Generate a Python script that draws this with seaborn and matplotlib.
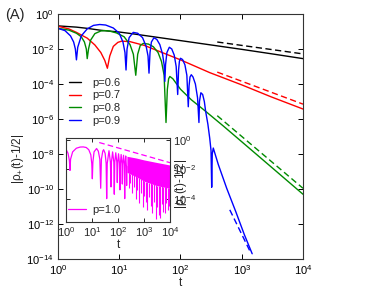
import numpy as np
import pandas as pd
import matplotlib
matplotlib.use("Agg")
import matplotlib.pyplot as plt
import seaborn as sns

# ---------------- data (t values and log10 of |rho+(t)-1/2|) ----------------
t_p06 = [1, 2, 3, 5, 10, 15, 30, 100, 251, 1000, 3000, 10000]
e_p06 = [-0.68, -0.75, -0.82, -0.93, -1.03, -1.11, -1.26, -1.52, -1.72, -2.02, -2.27, -2.55]

t_p07 = [1, 1.5, 2, 3, 4, 5, 5.8, 6.4, 7.0, 8, 9.5, 11, 15, 26, 50, 100, 300, 1000, 3000, 10000]
e_p07 = [-0.70, -0.85, -1.05, -1.38, -1.77, -2.2, -2.65, -3.1, -2.4, -1.85, -1.62, -1.55,
         -1.58, -1.8, -2.2, -2.62, -3.35, -4.05, -4.73, -5.43]

t_p08 = [1, 1.5, 2, 2.4, 2.7, 2.9, 3.0, 3.15, 3.4, 4, 5, 5.85, 7, 9, 12, 15, 17, 18.6, 20, 22,
         24.7, 30, 36, 43, 49, 54, 58, 61, 64, 67, 75, 100, 150, 251, 500, 1000, 3000, 10000]
e_p08 = [-0.82, -0.92, -1.1, -1.3, -1.6, -2.0, -2.55, -2.0, -1.5, -1.12, -0.97, -0.95, -0.98,
         -1.08, -1.3, -1.75, -2.3, -3.5, -2.3, -1.8, -1.68, -1.72, -1.87, -2.2, -2.72, -3.5,
         -6.2, -4.3, -3.7, -3.57, -3.7, -4.3, -4.9, -5.53, -6.4, -7.3, -8.73, -10.3]

t_p09 = [1, 1.3, 1.6, 1.8, 1.92, 2.0, 2.1, 2.4, 3, 3.8, 4.8, 6, 8, 10, 11.5, 12.4, 12.9, 13.4,
         14.5, 16.9, 20, 24, 27.5, 29.5, 30.6, 31.8, 33.5, 36.8, 41, 46, 51, 54, 55.5, 57, 60,
         65.7, 72, 79, 85, 90, 93, 96, 100, 108, 118, 127, 134, 138, 143, 150, 160, 175, 190,
         200, 204, 215, 230, 245, 257, 280, 300, 315, 323, 330, 343, 414, 568, 800, 1100, 1480]
e_p09 = [-0.82, -0.95, -1.25, -1.6, -2.0, -2.62, -1.9, -1.25, -0.85, -0.65, -0.6, -0.63, -0.8,
         -1.1, -1.6, -2.2, -3.2, -2.0, -1.35, -1.05, -1.1, -1.35, -1.85, -2.4, -3.38, -2.2, -1.6,
         -1.36, -1.45, -1.75, -2.3, -2.9, -3.85, -2.9, -2.2, -1.9, -2.0, -2.35, -3.0, -4.6, -3.2,
         -2.7, -2.53, -2.6, -2.9, -3.5, -5.3, -4.1, -3.6, -3.47, -3.6, -4.0, -4.8, -6.2, -5.0,
         -4.5, -4.6, -5.0, -5.55, -6.3, -7.1, -7.8, -9.9, -8.0, -7.66, -8.6, -9.96, -11.3, -12.6,
         -13.7]

# asymptotic (dashed) guides
t_d06 = [398, 10000]; e_d06 = [-1.60, -2.28]
t_d07 = [398, 10000]; e_d07 = [-3.32, -5.15]
t_d08 = [398, 10000]; e_d08 = [-5.81, -9.96]
t_d09 = [638, 1400];  e_d09 = [-11.19, -13.64]

# inset p=1.0: resolved oscillations
t_p10 = [1, 1.2, 1.35, 1.42, 1.5, 1.8, 2.5, 3.5, 4.6, 6, 7.5, 9, 9.8, 10.3, 10.8, 12, 15, 17.5,
         20, 21.6, 23, 26, 28, 32, 35, 36.7, 38.5, 45, 51, 53.7, 56, 62, 69, 72, 75, 82, 90, 94,
         98, 105, 114, 119, 124, 132, 142, 147, 152, 163, 175, 181, 187, 198, 210, 215, 220]
e_p10 = [-0.62, -0.9, -1.4, -2.07, -1.3, -0.8, -0.55, -0.47, -0.46, -0.5, -0.65, -1.0, -1.6,
         -2.64, -1.5, -0.8, -0.57, -0.75, -1.3, -3.29, -1.3, -0.75, -0.65, -0.9, -1.6, -4.0,
         -1.6, -0.72, -1.5, -3.2, -1.5, -0.8, -1.5, -3.7, -1.5, -0.86, -1.5, -2.9, -1.5, -0.93,
         -1.6, -3.4, -1.6, -0.98, -1.6, -3.0, -1.6, -1.03, -1.7, -4.0, -1.7, -1.08, -1.8, -3.1,
         -1.8]
# inset p=1.0: dense oscillation band and deepest spikes
t_band = [220, 500, 1000, 3000, 10000]
e_band_top = [-1.1, -1.22, -1.35, -1.52, -1.7]
e_band_bot = [-2.2, -2.5, -2.8, -3.1, -3.3]
t_spike = [260, 300, 350, 420, 480, 560, 650, 750, 880, 1000, 1150, 1350, 1550, 1800, 2100,
           2400, 2800, 3200, 3700, 4200, 4800, 5500, 6300, 7200, 8300, 9500]
e_spike = [-3.3, -2.9, -3.6, -3.2, -4.0, -3.4, -4.3, -3.6, -4.6, -3.8, -4.2, -4.8, -3.9, -4.5,
           -5.0, -4.2, -5.4, -4.6, -5.1, -5.3, -4.4, -4.9, -5.0, -4.3, -4.8, -4.5]
t_d10 = [19, 10000]; e_d10 = [-0.16, -1.54]

labels = ["p=0.6", "p=0.7", "p=0.8", "p=0.9"]
colors = ["black", "#ff0000", "#008b00", "#0000ff"]
mag = "#ff00ff"

# ---------------- style ----------------
sns.set_theme(style="ticks")
plt.rcParams["font.family"] = ["Liberation Sans", "DejaVu Sans"]
plt.rcParams["mathtext.fontset"] = "custom"
plt.rcParams["mathtext.rm"] = "Liberation Sans"
plt.rcParams["mathtext.it"] = "Liberation Sans:italic"
plt.rcParams["mathtext.bf"] = "Liberation Sans:bold"

fig = plt.figure(figsize=(3.74, 2.89), dpi=100)
ax = fig.add_axes([58/374, 1-259/289, 245/374, 245/289])

def df(t, e):
    return pd.DataFrame({"t": np.asarray(t, float), "y": np.power(10.0, np.asarray(e, float))})

series = [(t_p06, e_p06), (t_p07, e_p07), (t_p08, e_p08), (t_p09, e_p09)]
dashed = [(t_d06, e_d06), (t_d07, e_d07), (t_d08, e_d08), (t_d09, e_d09)]
for (t, e), lab, c in zip(series, labels, colors):
    sns.lineplot(data=df(t, e), x="t", y="y", ax=ax, color=c, lw=1.0, label=lab, sort=False,
                 estimator=None)
for (t, e), c in zip(dashed, colors):
    sns.lineplot(data=df(t, e), x="t", y="y", ax=ax, color=c, lw=1.0, sort=False,
                 estimator=None, linestyle=(0, (4.5, 2.5)))

ax.set_xscale("log"); ax.set_yscale("log")
ax.set_xlim(1, 1e4); ax.set_ylim(1e-14, 1)
ax.set_xticks([1, 10, 100, 1000, 10000])
ax.set_yticks([10.0**k for k in range(-14, 1, 2)])
ax.minorticks_off()
ax.tick_params(which="both", direction="in", top=True, right=True, length=3.5, width=0.7,
               labelsize=8, pad=3, colors="black")
for s in ax.spines.values():
    s.set_linewidth(0.8); s.set_color("#333333")
ax.set_xlabel("t", fontsize=8.5, labelpad=0)
ax.set_ylabel("|ρ$_{+}$(t)-1/2|", fontsize=8.5)
ax.yaxis.set_label_coords(-0.13, 0.41)
h, l = ax.get_legend_handles_labels()
ax.legend(h[:4], l[:4], loc="upper left", bbox_to_anchor=(0.045, 0.74), frameon=False,
          fontsize=8, handlelength=1.1, handletextpad=1.0, labelspacing=0.25,
          borderaxespad=0, borderpad=0)
fig.text(5/374, 1-15/289, "(A)", fontsize=10.5, va="center", ha="left")

# ---------------- inset ----------------
ai = fig.add_axes([66/374, 1-222/289, 104/374, 84/289])
sns.lineplot(data=df(t_p10, e_p10), x="t", y="y", ax=ai, color=mag, lw=0.9, label="p=1.0",
             sort=False, estimator=None)
band = df(t_band, e_band_top)
band["lo"] = np.power(10.0, np.asarray(e_band_bot, float))
ai.fill_between(band["t"], band["lo"], band["y"], color=mag, lw=0)
sp = df(t_spike, e_spike)
ai.vlines(sp["t"], sp["y"], np.interp(np.log10(sp["t"]), np.log10(band["t"]), band["lo"]),
          color=mag, lw=0.8)
sns.lineplot(data=df(t_d10, e_d10), x="t", y="y", ax=ai, color=mag, lw=0.9, sort=False,
             estimator=None, linestyle=(0, (4.5, 2.5)))
ai.set_xscale("log"); ai.set_yscale("log")
ai.set_xlim(1, 1e4); ai.set_ylim(10**-5.6, 10**0.15)
ai.set_xticks([1, 10, 100, 1000, 10000])
ai.set_yticks([1, 1e-2, 1e-4])
ai.minorticks_off()
ai.tick_params(which="both", direction="in", top=True, right=True, left=True,
               labelleft=False, labelright=True, length=3, width=0.7, labelsize=8, pad=2)
for s in ai.spines.values():
    s.set_linewidth(0.8); s.set_color("#333333")
ai.set_xlabel("t", fontsize=8.5, labelpad=0)
ai.set_ylabel("|ρ$_{+}$(t)-1/2|", fontsize=8.5)
ai.yaxis.set_label_position("right")
ai.yaxis.set_label_coords(1.03, 0.46)
ai.legend(loc="lower left", bbox_to_anchor=(0.0, 0.06), frameon=False, fontsize=8,
          handlelength=1.6, handletextpad=0.6, borderaxespad=0, borderpad=0.2)

fig.savefig("out.png", dpi=100)
